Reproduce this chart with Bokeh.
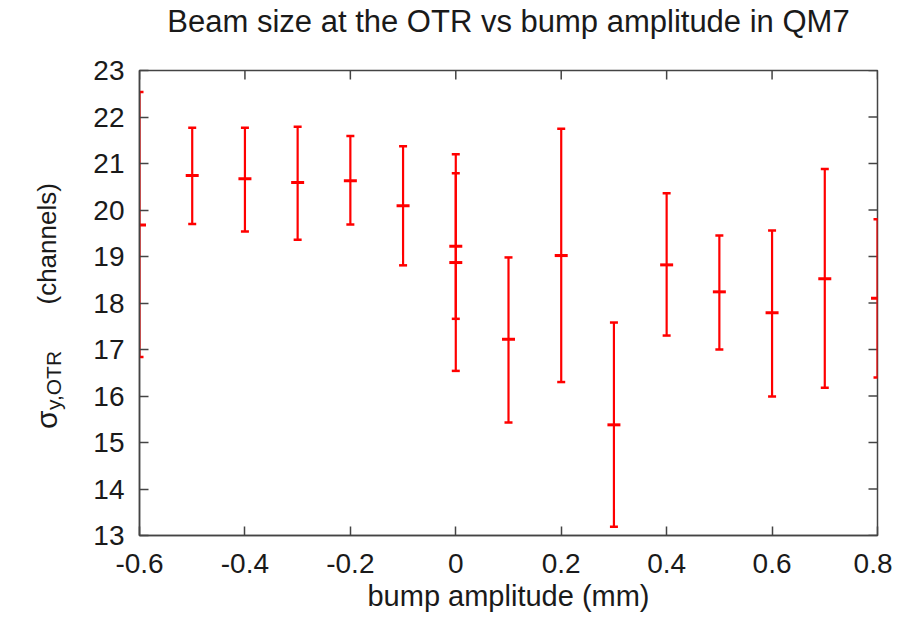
import math
from bokeh.plotting import figure
from bokeh.models import FixedTicker, Range1d
from bokeh.layouts import row, column
from bokeh.core.properties import value
from bokeh.embed import file_html
from bokeh.resources import INLINE

# ---- data ----
amplitude = [-0.6, -0.5, -0.4, -0.3, -0.2, -0.1, 0.0, 0.0, 0.1, 0.2, 0.3, 0.4, 0.5, 0.6, 0.7, 0.8]
sigma = [19.68, 20.74, 20.67, 20.59, 20.63, 20.09, 19.22, 18.87, 17.22, 19.02, 15.38, 18.82, 18.24, 17.79, 18.52, 18.10]
sigma_hi = [22.54, 21.77, 21.77, 21.79, 21.59, 21.37, 20.79, 21.20, 18.98, 21.75, 17.58, 20.36, 19.45, 19.56, 20.88, 19.80]
sigma_lo = [16.84, 19.70, 19.54, 19.36, 19.69, 18.81, 17.66, 16.54, 15.43, 16.30, 13.19, 17.30, 17.00, 15.99, 16.18, 16.40]

x_ticks = [-0.6, -0.4, -0.2, 0.0, 0.2, 0.4, 0.6, 0.8]
x_tick_labels = ["-0.6", "-0.4", "-0.2", "0", "0.2", "0.4", "0.6", "0.8"]
y_ticks = [13, 14, 15, 16, 17, 18, 19, 20, 21, 22, 23]
X0, X1 = -0.6, 0.8
Y0, Y1 = 13, 23

TITLE = "Beam size at the OTR vs bump amplitude in QM7"
XLABEL = "bump amplitude (mm)"

FONT = "Liberation Sans"
AX = "#444444"
TXT = "#1a1a1a"
RED = "#ff0000"

TOTAL_W, TOTAL_H = 892, 614
TH = 48                      # title strip height
LW = 70                      # strip holding the rotated y-axis label
H = TOTAL_H - TH
W = TOTAL_W - LW
FRAME_L, FRAME_R, FRAME_T, FRAME_B = 139, 877, 70, 537   # target frame on the page
BL, BR, BT, BB = FRAME_L - LW, TOTAL_W - FRAME_R, FRAME_T - TH, TOTAL_H - FRAME_B
FH = FRAME_B - FRAME_T

def clean(fig):
    fig.outline_line_color = None
    fig.grid.visible = False
    fig.background_fill_color = "white"
    fig.border_fill_color = "white"

# ---- title strip ----
tfig = figure(width=TOTAL_W, height=TH, output_backend="svg", toolbar_location=None,
              x_range=Range1d(0, TOTAL_W), y_range=Range1d(0, TH),
              x_axis_type=None, y_axis_type=None,
              min_border_left=0, min_border_right=0, min_border_top=0, min_border_bottom=0)
clean(tfig)
tfig.text(x=[(FRAME_L + FRAME_R) / 2], y=[TH - 21], text=[TITLE], text_align="center",
          text_baseline="alphabetic", text_font=value(FONT), text_font_size="31px",
          text_color=TXT)

# ---- main plot ----
p = figure(width=W, height=H, output_backend="svg", toolbar_location=None,
           x_range=Range1d(X0, X1), y_range=Range1d(Y0, Y1),
           min_border_left=BL, min_border_right=BR, min_border_top=BT, min_border_bottom=BB)
p.background_fill_color = "white"
p.border_fill_color = "white"
p.outline_line_color = AX
p.outline_line_width = 1.5
p.grid.visible = False

for ax in (p.xaxis[0], p.yaxis[0]):
    ax.axis_line_color = AX
    ax.axis_line_width = 1.5
    ax.major_tick_line_color = AX
    ax.major_tick_line_width = 1.5
    ax.major_tick_in = 9
    ax.major_tick_out = 0
    ax.minor_tick_line_color = None
    ax.major_label_text_font = FONT
    ax.major_label_text_color = TXT
    ax.major_label_text_font_size = "28px"

p.xaxis.ticker = FixedTicker(ticks=x_ticks)
p.xaxis.major_label_overrides = {t: s for t, s in zip(x_ticks, x_tick_labels)}
p.yaxis.ticker = FixedTicker(ticks=y_ticks)
p.xaxis.major_label_standoff = 18
p.yaxis.major_label_standoff = 15
p.xaxis.axis_label = XLABEL
p.xaxis.axis_label_text_font = FONT
p.xaxis.axis_label_text_font_size = "29px"
p.xaxis.axis_label_text_font_style = "normal"
p.xaxis.axis_label_text_color = TXT
p.xaxis.axis_label_standoff = 4

# mirrored inward ticks on the top and right frame edges
p.ray(x=x_ticks, y=[Y1] * len(x_ticks), length=9, length_units="screen",
      angle=-math.pi / 2, line_color=AX, line_width=1.5)
p.ray(x=[X1] * len(y_ticks), y=y_ticks, length=9, length_units="screen",
      angle=math.pi, line_color=AX, line_width=1.5)

# error bars with centre marks
p.segment(x0=amplitude, y0=sigma_lo, x1=amplitude, y1=sigma_hi, line_color=RED, line_width=2.2)
p.dash(x=amplitude, y=sigma_hi, size=8, line_color=RED, line_width=2.5)
p.dash(x=amplitude, y=sigma_lo, size=8, line_color=RED, line_width=2.5)
p.dash(x=amplitude, y=sigma, size=13, line_color=RED, line_width=3)

# ---- left strip with the y-axis label: sigma_{y,OTR} (channels) ----
lab = figure(width=LW, height=H, output_backend="svg", toolbar_location=None,
             x_range=Range1d(0, LW), y_range=p.y_range,
             x_axis_type=None, y_axis_type=None,
             min_border_left=0, min_border_right=0, min_border_top=BT, min_border_bottom=BB)
clean(lab)

def page_y(y_page):  # page pixel row -> y data (frames of the row are aligned)
    return Y0 + (FRAME_B - y_page) * (Y1 - Y0) / FH

lab_kw = dict(angle=math.pi / 2, text_align="left", text_baseline="alphabetic",
              text_font=value(FONT), text_color=TXT)
lab.text(x=[46], y=[page_y(430)], text=["σ"], text_font_size="30px", **lab_kw)
lab.text(x=[53], y=[page_y(411)], text=["y,OTR"], text_font_size="21px", **lab_kw)
lab.text(x=[46], y=[page_y(305)], text=["(channels)"], text_font_size="26px", **lab_kw)

layout = column(tfig, row(lab, p, spacing=0), spacing=0)
open("out.html", "w").write(file_html(layout, INLINE))
